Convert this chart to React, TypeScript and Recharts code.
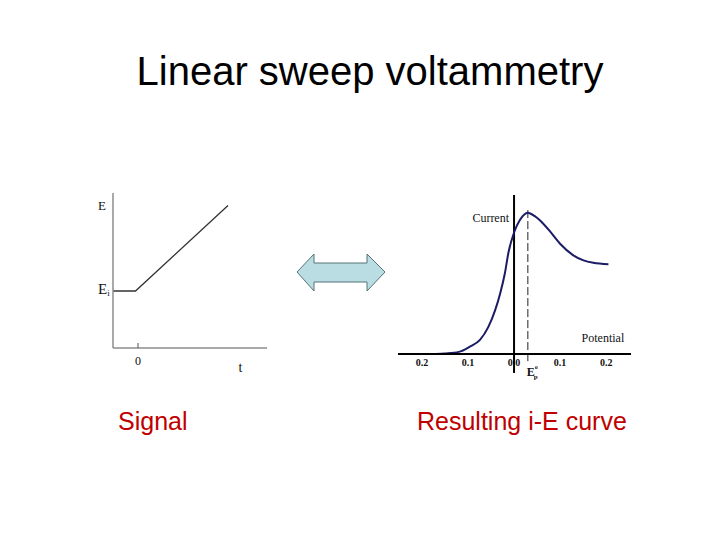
import { Line, LineChart, ReferenceDot, ReferenceLine, XAxis, YAxis } from "recharts";

// Left panel: applied potential vs time
const signalTime = [-1, -0.1, 3.6];
const signalPotential = [1, 1, 2.5];
const signalTimeTicks = [0, 4.1];
const signalPotentialTicks = [1, 2.5];

// Right panel: i-E curve (potential in V, current normalised to peak)
const sweepPotential = [
  -0.17, -0.15, -0.12, -0.096, -0.074, -0.056, -0.041, -0.03, -0.02, -0.012, 0, 0.013,
  0.03, 0.045, 0.064, 0.08, 0.1, 0.128, 0.151, 0.172, 0.205,
];
const sweepCurrent = [
  0, 0.004, 0.015, 0.052, 0.1, 0.19, 0.31, 0.43, 0.57, 0.72, 0.86, 0.95,
  1.0, 0.975, 0.92, 0.86, 0.78, 0.7, 0.662, 0.645, 0.635,
];
const sweepTicks = [-0.2, -0.1, 0, 0.03, 0.1, 0.2];
const peakPotential = 0.03;

const SERIF = "'Liberation Serif', 'DejaVu Serif', serif";
const SANS = "'Liberation Sans', Arial, sans-serif";

const signalData = signalTime.map((t, i) => ({ t, e: signalPotential[i] }));
const sweepData = sweepPotential.map((e, i) => ({ e, i: sweepCurrent[i] }));

function SignalYTick({ x, y, payload }: any) {
  if (payload.value === 1) {
    return (
      <text x={x - 15} y={y + 3} fontFamily={SERIF} fontSize={15} fill="#111">
        E<tspan fontSize={9} dy={2}>i</tspan>
      </text>
    );
  }
  return (
    <text x={x - 7} y={y + 4} textAnchor="end" fontFamily={SERIF} fontSize={13} fill="#111">
      E
    </text>
  );
}

function SignalXTick({ x, y, payload }: any) {
  if (payload.value === 0) {
    return (
      <g>
        <line x1={x} x2={x} y1={y - 5} y2={y} stroke="#555" strokeWidth={1} />
        <text x={x} y={y + 17} textAnchor="middle" fontFamily={SERIF} fontSize={12} fill="#111">
          0
        </text>
      </g>
    );
  }
  return (
    <text x={x} y={y + 24} textAnchor="middle" fontFamily={SERIF} fontSize={14} fill="#111">
      t
    </text>
  );
}

function SweepTick({ x, y, payload }: any) {
  if (payload.value === peakPotential) {
    return (
      <text x={x - 1} y={y + 22} fontFamily={SERIF} fontSize={12} fontWeight="bold" fill="#111">
        E<tspan fontSize={6} dy={-7}>o</tspan>
        <tspan fontSize={7} dx={-4} dy={10}>p</tspan>
      </text>
    );
  }
  return (
    <text x={x} y={y + 12} textAnchor="middle" fontFamily={SERIF} fontSize={10} fontWeight="bold" fill="#111">
      {Math.abs(payload.value).toFixed(1)}
    </text>
  );
}

export default function App() {
  return (
    <div style={{ position: "absolute", left: 0, top: 0, width: 720, height: 540, background: "#fff" }}>
      <svg width={720} height={540} style={{ position: "absolute", left: 0, top: 0 }}>
        <text x={370} y={85} textAnchor="middle" fontFamily={SANS} fontSize={40} fill="#000">
          Linear sweep voltammetry
        </text>
        <text x={118} y={430} fontFamily={SANS} fontSize={25} fill="#c00000">
          Signal
        </text>
        <text x={417} y={430} fontFamily={SANS} fontSize={25} fill="#c00000">
          Resulting i-E curve
        </text>
        <polygon
          points="297,272 314,254 314,263 367,263 367,254 385,272 367,291 367,282 314,282 314,291"
          fill="#b9dde3"
          stroke="#557377"
          strokeWidth={1}
        />
      </svg>

      <div style={{ position: "absolute", left: 60, top: 180 }}>
        <LineChart width={230} height={210} data={signalData} margin={{ top: 13, right: 23, left: 0, bottom: 0 }}>
          <XAxis
            dataKey="t"
            type="number"
            domain={[-1, 5.16]}
            ticks={signalTimeTicks}
            interval={0}
            tickSize={0}
            tickMargin={0}
            tickLine={false}
            height={42}
            axisLine={{ stroke: "#8c8c8c", strokeWidth: 1.5 }}
            tick={(p: any) => <SignalXTick {...p} />}
          />
          <YAxis
            type="number"
            domain={[0, 2.72]}
            ticks={signalPotentialTicks}
            interval={0}
            tickSize={0}
            tickMargin={0}
            tickLine={false}
            width={53}
            axisLine={{ stroke: "#8c8c8c", strokeWidth: 1.5 }}
            tick={(p: any) => <SignalYTick {...p} />}
          />
          <Line dataKey="e" type="linear" stroke="#333" strokeWidth={1.3} dot={false} isAnimationActive={false} />
        </LineChart>
      </div>

      <div style={{ position: "absolute", left: 380, top: 180 }}>
        <LineChart width={262} height={215} data={sweepData} margin={{ top: 15, right: 11, left: 18, bottom: 0 }}>
          <XAxis
            dataKey="e"
            type="number"
            domain={[-0.252, 0.254]}
            ticks={sweepTicks}
            interval={0}
            tickSize={0}
            tickMargin={0}
            tickLine={false}
            height={41}
            axisLine={{ stroke: "#000", strokeWidth: 2 }}
            tick={(p: any) => <SweepTick {...p} />}
          />
          <YAxis hide type="number" domain={[0, 1.125]} />
          <ReferenceLine
            segment={[{ x: 0, y: -0.134 }, { x: 0, y: 1.125 }]}
            stroke="#000"
            strokeWidth={2}
            ifOverflow="visible"
          />
          <ReferenceLine
            segment={[{ x: peakPotential, y: -0.05 }, { x: peakPotential, y: 1.033 }]}
            stroke="#222"
            strokeWidth={1}
            strokeDasharray="8 3"
            ifOverflow="visible"
          />
          <Line dataKey="i" type="monotone" stroke="#1b1b66" strokeWidth={2} dot={false} isAnimationActive={false} />
          <ReferenceDot
            x={0}
            y={0.962}
            r={1}
            fill="none"
            stroke="none"
            label={{ value: "Current", position: "left", offset: 4, fontFamily: SERIF, fontSize: 12, fill: "#111" }}
          />
          <ReferenceDot
            x={0.193}
            y={0.113}
            r={1}
            fill="none"
            stroke="none"
            label={{ value: "Potential", position: "center", fontFamily: SERIF, fontSize: 12, fill: "#111" }}
          />
        </LineChart>
      </div>
    </div>
  );
}
